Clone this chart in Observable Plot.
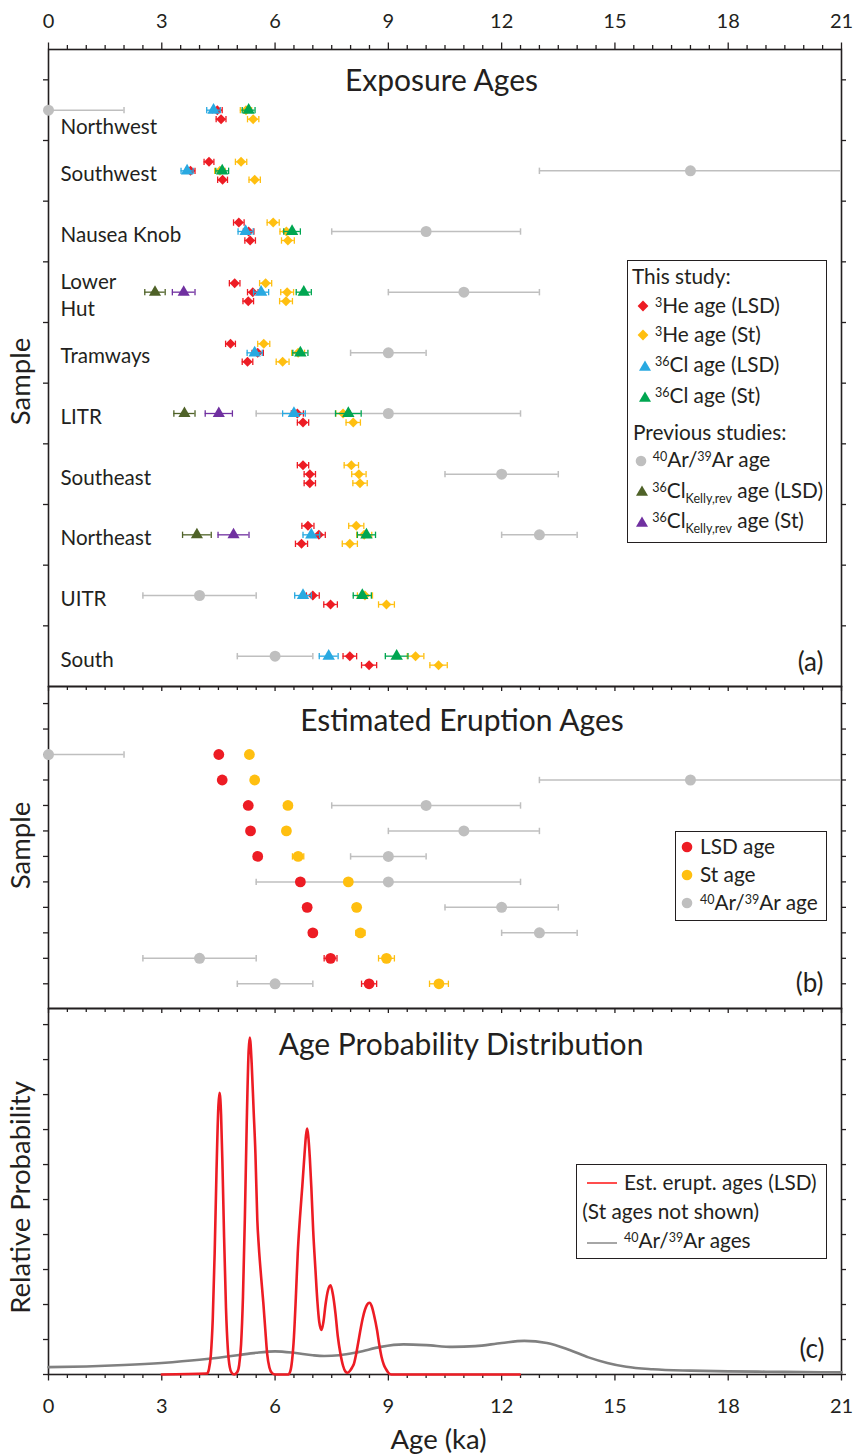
<!DOCTYPE html>
<html>
<head>
<meta charset="utf-8">
<script src="https://cdn.jsdelivr.net/npm/d3@7"></script>
<script src="https://cdn.jsdelivr.net/npm/@observablehq/plot@0.6"></script>
<style>
  html,body{margin:0;padding:0;background:#fff;}
  #wrap{position:relative;width:853px;height:1456px;overflow:hidden;font-family:Lato,"Open Sans",sans-serif;color:#231f20;}
  #wrap > svg{position:absolute;left:0;overflow:visible;}
  .lg{position:absolute;border:1.5px solid #231f20;background:#fff;box-sizing:border-box;}
  .it{position:absolute;height:24px;display:flex;align-items:center;white-space:nowrap;font-size:20.8px;line-height:1;}
  .sup{font-size:12.5px;position:relative;top:-6px;}
  .sub{font-size:12.5px;position:relative;top:5px;}
  .sym{position:absolute;overflow:visible;}
</style>
</head>
<body>
<div id="wrap"></div>
<script>
// ---------------- DATA ----------------
const groups = ["Northwest","Southwest","Nausea Knob","Lower Hut","Tramways","LITR","Southeast","Northeast","UITR","South"];
const groupLabels = ["Northwest","Southwest","Nausea Knob","Lower\nHut","Tramways","LITR","Southeast","Northeast","UITR","South"];

// Panel (a): [sample, sub-row (-1 upper, 0 middle, 1 lower), age (ka), ±error (ka)]
const he3LSD = [
  ["Northwest",0,4.47,0.13],["Northwest",1,4.57,0.13],
  ["Southwest",-1,4.25,0.13],["Southwest",0,3.76,0.12],["Southwest",1,4.61,0.13],
  ["Nausea Knob",-1,5.04,0.14],["Nausea Knob",0,5.30,0.14],["Nausea Knob",1,5.34,0.14],
  ["Lower Hut",-1,4.93,0.14],["Lower Hut",0,5.41,0.14],["Lower Hut",1,5.29,0.14],
  ["Tramways",-1,4.82,0.13],["Tramways",0,5.54,0.15],["Tramways",1,5.27,0.14],
  ["LITR",0,6.59,0.16],["LITR",1,6.74,0.15],
  ["Southeast",-1,6.74,0.15],["Southeast",0,6.92,0.15],["Southeast",1,6.92,0.15],
  ["Northeast",-1,6.87,0.16],["Northeast",0,7.16,0.17],["Northeast",1,6.70,0.16],
  ["UITR",0,7.00,0.17],["UITR",1,7.47,0.18],
  ["South",0,7.98,0.18],["South",1,8.49,0.20]
];
const he3St = [
  ["Northwest",0,5.23,0.15],["Northwest",1,5.42,0.15],
  ["Southwest",-1,5.10,0.15],["Southwest",0,4.54,0.14],["Southwest",1,5.46,0.15],
  ["Nausea Knob",-1,5.95,0.16],["Nausea Knob",0,6.30,0.17],["Nausea Knob",1,6.34,0.17],
  ["Lower Hut",-1,5.75,0.16],["Lower Hut",0,6.32,0.17],["Lower Hut",1,6.29,0.17],
  ["Tramways",-1,5.70,0.16],["Tramways",0,6.61,0.17],["Tramways",1,6.20,0.17],
  ["LITR",0,7.80,0.19],["LITR",1,8.07,0.19],
  ["Southeast",-1,8.02,0.19],["Southeast",0,8.22,0.19],["Southeast",1,8.25,0.19],
  ["Northeast",-1,8.15,0.20],["Northeast",0,8.36,0.20],["Northeast",1,7.98,0.20],
  ["UITR",0,8.38,0.20],["UITR",1,8.95,0.21],
  ["South",0,9.72,0.22],["South",1,10.33,0.23]
];
const cl36LSD = [
  ["Northwest",0,4.37,0.18],["Southwest",0,3.67,0.16],["Nausea Knob",0,5.22,0.2],
  ["Lower Hut",0,5.63,0.2],["Tramways",0,5.46,0.2],["LITR",0,6.50,0.3],
  ["Northeast",0,6.96,0.22],["UITR",0,6.74,0.22],["South",0,7.42,0.25]
];
const cl36St = [
  ["Northwest",0,5.30,0.17],["Southwest",0,4.60,0.17],["Nausea Knob",0,6.45,0.22],
  ["Lower Hut",0,6.76,0.2],["Tramways",0,6.67,0.2],["LITR",0,7.94,0.34],
  ["Northeast",0,8.42,0.24],["UITR",0,8.31,0.24],["South",0,9.22,0.3]
];
const kellyLSD = [["Lower Hut",0,2.82,0.27],["LITR",0,3.60,0.28],["Northeast",0,3.93,0.38]];
const kellySt  = [["Lower Hut",0,3.58,0.30],["LITR",0,4.51,0.36],["Northeast",0,4.90,0.41]];

// 40Ar/39Ar ages (previous studies), one per sample, in sample order
const arAge = [0,17,10,11,9,9,12,13,4,6];
const arErr = [2,4,2.5,2,1,3.5,1.5,1,1.5,1];

// Panel (b): estimated eruption ages, in sample order
const eruptLSD    = [4.51,4.60,5.29,5.35,5.54,6.67,6.85,7.00,7.47,8.49];
const eruptLSDerr = [0.08,0.08,0.08,0.08,0.10,0.10,0.10,0.10,0.17,0.20];
const eruptSt     = [5.32,5.46,6.34,6.30,6.61,7.94,8.16,8.26,8.95,10.34];
const eruptSterr  = [0.08,0.08,0.10,0.10,0.15,0.10,0.10,0.12,0.21,0.25];

// Panel (c): relative probability curves
const lsdCurveAge = [3.00,4.20,4.25,4.30,4.35,4.40,4.45,4.50,4.53,4.57,4.61,4.65,4.70,4.75,4.80,4.85,4.92,
  5.00,5.05,5.10,5.15,5.20,5.25,5.30,5.33,5.38,5.43,5.48,5.53,5.57,5.63,5.69,5.74,5.79,5.85,5.92,6.00,
  6.35,6.40,6.45,6.50,6.55,6.60,6.66,6.72,6.78,6.82,6.85,6.88,6.92,6.96,7.01,7.07,7.12,7.17,7.23,7.28,
  7.34,7.40,7.47,7.53,7.60,7.66,7.73,7.80,7.86,7.92,7.98,8.04,8.09,8.15,8.20,8.26,8.32,8.38,8.44,8.50,
  8.56,8.62,8.70,8.76,8.82,8.88,8.94,9.00,9.08,12.48];
const lsdCurveProb = [0,0.03,0.16,0.57,1.59,3.46,5.85,7.69,8.05,7.43,5.85,3.92,1.90,0.72,0.21,0.05,0,
  0.07,0.28,0.87,2.22,4.47,7.20,9.25,9.63,8.90,7.60,6.31,4.41,3.65,2.80,2.03,1.30,0.60,0.20,0.04,0,
  0,0.08,0.40,1.08,2.20,3.46,4.50,5.36,6.30,6.85,7.03,6.80,6.20,5.36,4.10,2.98,2.10,1.50,1.27,1.50,
  2.03,2.40,2.55,2.30,1.74,1.10,0.60,0.25,0.09,0.05,0.10,0.20,0.31,0.60,0.90,1.27,1.60,1.85,2.00,2.05,
  1.95,1.70,1.27,0.85,0.50,0.28,0.15,0.05,0,0];
const arCurveAge  = [0,1,2,3,4,4.5,5,5.5,6,6.5,7,7.3,7.7,8.2,8.8,9.4,10,10.7,11.3,12,12.6,13.2,13.8,14.3,14.8,15.3,16,17,18,19,20,21];
const arCurveProb = [0.21,0.23,0.27,0.33,0.42,0.48,0.55,0.62,0.66,0.62,0.55,0.53,0.55,0.64,0.79,0.86,0.84,0.79,0.81,0.90,0.96,0.90,0.70,0.49,0.33,0.22,0.15,0.11,0.09,0.08,0.07,0.06];

const majorTicks = [0,3,6,9,12,15,18,21];
const minorTicks = [0.5,1,1.5,2,2.5,3.5,4,4.5,5,5.5,6.5,7,7.5,8,8.5,9.5,10,10.5,11,11.5,12.5,13,13.5,14,14.5,15.5,16,16.5,17,17.5,18.5,19,19.5,20,20.5];
const yTicksA = [0.5,1.5,2.5,3.5,4.5,5.5,6.5,7.5,8.5,9.5];
const yTicksB = [-1,0,1,2,3,4,5,6,7,8,9,10];
const yTicksC = [0,1,2,3,4,5,6,7,8,9,10];

// ---------------- STYLE ----------------
const COL = {
  he3LSD: "#ED1C24", he3St: "#FFBF10", cl36LSD: "#29A9E1", cl36St: "#00A651",
  ar: "#BFBFBF", kLSD: "#4F6228", kSt: "#7030A0", axis: "#231f20", arLine: "#808080"
};
const W = 853, ML = 48, MR = 12, INNER_W = W - ML - MR;
const AX = 1.6;

const capSym = {draw(ctx, size) { const h = Math.sqrt(size / Math.PI); ctx.moveTo(0, -h); ctx.lineTo(0, h); }};

function errMarks(rows, color, sw = 1.3) {
  return [
    Plot.ruleY(rows, {y: "y", x1: d => Math.max(0, d.x - d.e), x2: d => Math.min(21, d.x + d.e), stroke: color, strokeWidth: sw}),
    Plot.dot(rows.filter(d => d.x - d.e > 0), {x: d => d.x - d.e, y: "y", symbol: capSym, r: 3.2, stroke: color, fill: "none", strokeWidth: sw}),
    Plot.dot(rows.filter(d => d.x + d.e < 21), {x: d => d.x + d.e, y: "y", symbol: capSym, r: 3.2, stroke: color, fill: "none", strokeWidth: sw})
  ];
}
function pointMarks(rows, color, symbol, r, sw) {
  return [...errMarks(rows, color, sw), Plot.dot(rows, {x: "x", y: "y", symbol, r, fill: color, stroke: "none"})];
}
function xTickMarks(innerH, where) {
  const mk = (vals, len) => {
    let o;
    if (where === "topOut") o = {insetTop: -len, insetBottom: innerH};
    else if (where === "topIn") o = {insetTop: 0, insetBottom: innerH - len};
    else o = {insetTop: innerH, insetBottom: -len};
    return Plot.tickX(vals, {x: d => d, stroke: COL.axis, strokeWidth: 1.3, ...o});
  };
  const out = where !== "topIn";
  return [mk(minorTicks, 4), mk(majorTicks, out ? 6.5 : 5)];
}
function yTickMarks(vals) {
  return [
    Plot.tickY(vals, {y: d => d, insetLeft: -5, insetRight: INNER_W, stroke: COL.axis, strokeWidth: 1.3}),
    Plot.tickY(vals, {y: d => d, insetLeft: INNER_W, insetRight: -5, stroke: COL.axis, strokeWidth: 1.3})
  ];
}
const common = {
  width: W, marginLeft: ML, marginRight: MR,
  style: {fontFamily: "Lato, 'Open Sans', sans-serif", fontSize: "20px", color: COL.axis, overflow: "visible", background: "transparent"}
};
function label(text, opts) { return Plot.text([text], {text: d => d, fill: COL.axis, ...opts}); }

const TITLE_FS = 30, YLAB_FS = 27.5, LETTER_FS = 26;

// ---------------- PANEL (a) ----------------
const ROW = 0.148;
const rowsA = data => data.map(([g, r, age, err]) => ({x: age, e: err, y: groups.indexOf(g) + 1 + r * ROW}));
const arRowsA = groups.map((g, i) => ({x: arAge[i], e: arErr[i], y: i + 1}));
const labelRows = groupLabels.map((t, i) => ({t, y: i + 1 + (i === 0 ? 0.25 : 0.03)}));

const plotA = Plot.plot({
  ...common, height: 686, marginTop: 49, marginBottom: 0,
  x: {domain: [0, 21]},
  y: {domain: [10.5, 0], axis: null},
  marks: [
    Plot.frame({stroke: COL.axis, strokeWidth: AX}),
    ...xTickMarks(637, "topOut"),
    ...yTickMarks(yTicksA),
    Plot.axisX({anchor: "top", ticks: majorTicks, tickSize: 0, tickPadding: 22, fontSize: 20, fill: COL.axis, label: null}),
    ...pointMarks(arRowsA, COL.ar, "circle", 5.5, 1.5),
    ...pointMarks(rowsA(kellyLSD), COL.kLSD, "triangle", 4.5),
    ...pointMarks(rowsA(kellySt), COL.kSt, "triangle", 4.5),
    ...pointMarks(rowsA(he3LSD), COL.he3LSD, "diamond2", 4.5),
    ...pointMarks(rowsA(he3St), COL.he3St, "diamond2", 4.5),
    ...pointMarks(rowsA(cl36LSD), COL.cl36LSD, "triangle", 4.6),
    ...pointMarks(rowsA(cl36St), COL.cl36St, "triangle", 4.6),
    Plot.text(labelRows, {x: 0, y: "y", text: "t", dx: 12, textAnchor: "start", lineAnchor: "middle", fontSize: 20.6, lineHeight: 1.29, fill: COL.axis}),
    label("Exposure Ages", {frameAnchor: "top", dx: -3.5, dy: 41.7, lineAnchor: "bottom", fontSize: TITLE_FS}),
    label("(a)", {frameAnchor: "bottom-right", textAnchor: "end", dx: -18, dy: -23.5, lineAnchor: "middle", fontSize: LETTER_FS}),
    label("Sample", {frameAnchor: "left", rotate: -90, dx: -27, dy: 13.5, lineAnchor: "middle", textAnchor: "middle", fontSize: YLAB_FS})
  ]
});

// ---------------- PANEL (b) ----------------
const bRows = (vals, errs) => vals.map((v, i) => ({x: v, e: errs[i], y: i + 1}));
const plotB = Plot.plot({
  ...common, height: 322, marginTop: 0, marginBottom: 0,
  x: {domain: [0, 21], axis: null},
  y: {domain: [10.97, -1.67], axis: null},
  marks: [
    Plot.frame({stroke: COL.axis, strokeWidth: AX}),
    ...xTickMarks(322, "topIn"),
    ...yTickMarks(yTicksB),
    ...pointMarks(bRows(arAge, arErr), COL.ar, "circle", 5.5, 1.5),
    ...pointMarks(bRows(eruptLSD, eruptLSDerr), COL.he3LSD, "circle", 5.4),
    ...pointMarks(bRows(eruptSt, eruptSterr), COL.he3St, "circle", 5.4),
    label("Estimated Eruption Ages", {frameAnchor: "top", dx: 17, dy: 44, lineAnchor: "bottom", fontSize: TITLE_FS}),
    label("(b)", {frameAnchor: "bottom-right", textAnchor: "end", dx: -18, dy: -25.3, lineAnchor: "middle", fontSize: LETTER_FS}),
    label("Sample", {frameAnchor: "left", rotate: -90, dx: -27, dy: -2, lineAnchor: "middle", textAnchor: "middle", fontSize: YLAB_FS})
  ]
});

// ---------------- PANEL (c) ----------------
const lsdCurve = lsdCurveAge.map((a, i) => ({age: a, p: lsdCurveProb[i]}));
const arCurve = arCurveAge.map((a, i) => ({age: a, p: arCurveProb[i]}));
const plotC = Plot.plot({
  ...common, height: 448, marginTop: 0, marginBottom: 82,
  x: {domain: [0, 21]},
  y: {domain: [0, 10.46], axis: null},
  marks: [
    Plot.frame({stroke: COL.axis, strokeWidth: AX}),
    ...xTickMarks(366, "topIn"),
    ...xTickMarks(366, "bottomOut"),
    ...yTickMarks(yTicksC),
    Plot.axisX({anchor: "bottom", ticks: majorTicks, tickSize: 0, tickPadding: 24, fontSize: 20, fill: COL.axis, label: null}),
    Plot.line(arCurve, {x: "age", y: "p", stroke: COL.arLine, strokeWidth: 2.6, curve: "monotone-x"}),
    Plot.line(lsdCurve, {x: "age", y: "p", stroke: COL.he3LSD, strokeWidth: 2.6, curve: "monotone-x"}),
    label("Age Probability Distribution", {frameAnchor: "top", dx: 16, dy: 46, lineAnchor: "bottom", fontSize: TITLE_FS}),
    label("(c)", {frameAnchor: "bottom-right", textAnchor: "end", dx: -17, dy: -24.7, lineAnchor: "middle", fontSize: LETTER_FS}),
    label("Relative Probability", {frameAnchor: "left", rotate: -90, dx: -27, dy: 6, lineAnchor: "middle", textAnchor: "middle", fontSize: YLAB_FS}),
    label("Age (ka)", {frameAnchor: "bottom", dx: -6.5, dy: 74, lineAnchor: "bottom", fontSize: 27.5})
  ]
});

const wrap = document.getElementById("wrap");
plotA.style.top = "0px"; wrap.appendChild(plotA);
plotB.style.top = "686px"; wrap.appendChild(plotB);
plotC.style.top = "1008px"; wrap.appendChild(plotC);

// ---------------- LEGENDS (HTML overlay) ----------------
function box(l, t, w, h) { const d = document.createElement("div"); d.className = "lg"; Object.assign(d.style, {left: l + "px", top: t + "px", width: w + "px", height: h + "px"}); wrap.appendChild(d); }
function item(x, cy, html, fs) { const d = document.createElement("div"); d.className = "it"; d.style.left = x + "px"; d.style.top = (cy - 12) + "px"; if (fs) d.style.fontSize = fs + "px"; d.innerHTML = "<span>" + html + "</span>"; wrap.appendChild(d); }
function sym(kind, color, cx, cy) {
  const ns = "http://www.w3.org/2000/svg";
  const s = document.createElementNS(ns, "svg");
  s.setAttribute("class", "sym"); s.setAttribute("width", 36); s.setAttribute("height", 14);
  s.style.left = (cx - (kind === "line" ? 0 : 7)) + "px"; s.style.top = (cy - 7) + "px";
  let el;
  if (kind === "line") { el = document.createElementNS(ns, "line"); el.setAttribute("x1", 0); el.setAttribute("x2", 30); el.setAttribute("y1", 7); el.setAttribute("y2", 7); el.setAttribute("stroke", color); el.setAttribute("stroke-width", 1.4); }
  else if (kind === "circle") { el = document.createElementNS(ns, "circle"); el.setAttribute("cx", 7); el.setAttribute("cy", 7); el.setAttribute("r", 5.3); el.setAttribute("fill", color); }
  else if (kind === "diamond") { el = document.createElementNS(ns, "path"); el.setAttribute("d", "M7,1.6L12.4,7L7,12.4L1.6,7Z"); el.setAttribute("fill", color); }
  else { el = document.createElementNS(ns, "path"); el.setAttribute("d", "M7,1.5L13,11.8L1,11.8Z"); el.setAttribute("fill", color); }
  s.appendChild(el); wrap.appendChild(s);
}
const SUP = t => `<span class="sup">${t}</span>`;
const SUB = t => `<span class="sub">${t}</span>`;

// Legend (a)
box(627, 260, 200, 283);
item(632, 276, "This study:");
sym("diamond", COL.he3LSD, 643.3, 305.5); item(655, 305.3, `${SUP("3")}He age (LSD)`);
sym("diamond", COL.he3St, 643.3, 335.3); item(655, 334.5, `${SUP("3")}He age (St)`);
sym("tri", COL.cl36LSD, 644.5, 365.5); item(655, 364.2, `${SUP("36")}Cl age (LSD)`);
sym("tri", COL.cl36St, 644.5, 397); item(655, 395.8, `${SUP("36")}Cl age (St)`);
item(633, 432.5, "Previous studies:");
sym("circle", COL.ar, 641, 460.7); item(652.7, 459.8, `${SUP("40")}Ar/${SUP("39")}Ar age`);
sym("tri", COL.kLSD, 642.3, 491.3); item(652.3, 490, `${SUP("36")}Cl${SUB("Kelly,rev")} age (LSD)`);
sym("tri", COL.kSt, 642.3, 521.7); item(652.3, 520, `${SUP("36")}Cl${SUB("Kelly,rev")} age (St)`);

// Legend (b)
box(675, 830.7, 152, 90);
sym("circle", COL.he3LSD, 686.7, 846.7); item(700, 846.3, "LSD age");
sym("circle", COL.he3St, 686.7, 875); item(700, 874.5, "St age");
sym("circle", COL.ar, 686.7, 902.7); item(700, 902.5, `${SUP("40")}Ar/${SUP("39")}Ar age`);

// Legend (c)
box(576, 1164, 251, 95);
sym("line", "#FF0000", 586.7, 1183.3); item(624, 1182, "Est. erupt. ages (LSD)");
item(582.3, 1211, "(St ages not shown)");
sym("line", COL.arLine, 586.7, 1242.7); item(624, 1240.5, `${SUP("40")}Ar/${SUP("39")}Ar ages`);
</script>
</body>
</html>
